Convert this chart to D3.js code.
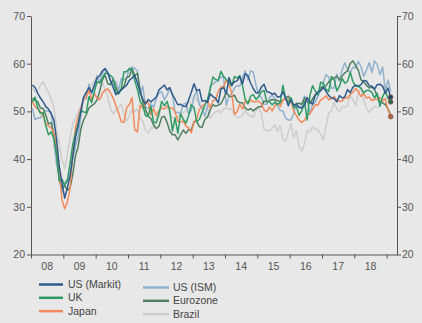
<!DOCTYPE html>
<html>
<head>
<meta charset="utf-8">
<script src="https://cdn.jsdelivr.net/npm/d3@7"></script>
<style>
  html, body { margin: 0; padding: 0; background: #e8e8e8; }
  svg { display: block; font-family: "Liberation Sans", Arial, sans-serif; }
</style>
</head>
<body>
<div id="chart"></div>
<script>
// Monthly PMI readings, Jan 2008 .. Feb 2019 (one row per year)
const startYear = 2008;
const yearLabels = ['08', '09', '10', '11', '12', '13', '14', '15', '16', '17', '18'];
const yTicks = [20, 30, 40, 50, 60, 70];

const usMarkit = [
    55.5, 55.0, 53.8, 52.8, 52.0, 51.0, 50.5, 49.5, 48.2, 44.0, 38.5, 35.0,
    31.8, 34.0, 36.5, 40.5, 44.5, 47.0, 50.0, 53.0, 54.0, 55.0, 54.0, 55.5,
    57.0, 57.5, 58.5, 59.0, 58.0, 56.5, 55.0, 53.5, 54.0, 54.5, 55.0, 55.5,
    56.5, 57.0, 57.5, 56.0, 54.0, 52.5, 51.5, 52.5, 52.0, 52.5, 53.0, 54.5,
    55.0, 55.5, 54.5, 55.0, 53.5, 52.5, 51.4, 51.5, 51.1, 51.0, 52.4, 54.0,
    55.8, 54.3, 54.6, 52.1, 52.3, 51.9, 53.7, 53.1, 52.8, 51.8, 54.7, 55.0,
    53.7, 57.1, 55.5, 56.2, 56.4, 57.3, 55.8, 57.9, 57.5, 55.9, 54.8, 53.9,
    53.9, 55.1, 55.7, 54.1, 54.0, 53.6, 53.8, 53.0, 53.1, 54.1, 52.8, 51.2,
    52.4, 51.3, 51.5, 50.8, 50.7, 51.3, 52.9, 52.0, 51.5, 53.4, 54.1, 54.3,
    55.0, 54.2, 53.3, 52.8, 52.7, 52.0, 53.3, 52.8, 53.1, 54.6, 53.9, 55.1,
    55.5, 55.3, 55.6, 56.5, 56.4, 55.4, 55.3, 54.7, 55.6, 55.7, 55.3, 53.8,
    54.9, 53.0
];
const usIsm = [
    50.7, 48.3, 48.6, 48.6, 49.6, 50.2, 50.0, 49.9, 43.5, 38.9, 36.2, 33.0,
    35.0, 35.8, 36.3, 40.1, 42.8, 44.8, 48.9, 52.9, 52.6, 55.7, 53.6, 54.9,
    57.5, 56.0, 58.0, 58.7, 58.3, 56.2, 55.5, 56.3, 54.4, 56.9, 56.6, 57.0,
    59.0, 59.3, 59.0, 58.5, 53.5, 55.3, 50.9, 50.6, 51.6, 50.8, 52.7, 53.9,
    54.1, 52.4, 53.4, 54.8, 53.5, 49.7, 49.8, 49.6, 51.5, 51.7, 49.5, 50.2,
    53.1, 54.2, 51.3, 50.7, 49.0, 50.9, 55.4, 55.7, 56.2, 56.4, 57.3, 57.0,
    51.3, 53.2, 53.7, 54.9, 55.4, 55.3, 57.1, 58.5, 56.6, 58.5, 58.2, 55.5,
    53.5, 52.9, 51.5, 51.5, 52.8, 53.5, 52.7, 51.1, 50.2, 50.1, 48.6, 48.2,
    48.2, 49.5, 51.8, 50.8, 51.3, 53.2, 52.6, 49.4, 51.5, 51.9, 53.2, 54.5,
    56.0, 57.7, 57.2, 54.8, 54.9, 57.8, 56.3, 58.8, 60.2, 58.7, 58.2, 59.3,
    59.1, 60.5, 59.3, 57.3, 58.7, 60.2, 58.1, 60.6, 59.8, 57.7, 59.3, 54.3,
    56.6, 54.2
];
const uk = [
    52.0, 53.0, 50.7, 49.6, 49.7, 47.0, 45.1, 45.7, 44.3, 41.0, 35.5, 35.8,
    34.5, 35.5, 39.1, 43.1, 45.4, 47.4, 50.2, 49.9, 49.7, 53.1, 51.8, 54.1,
    56.2, 56.0, 57.0, 58.0, 58.0, 57.5, 57.0, 54.0, 53.7, 54.7, 58.3, 58.3,
    59.0, 58.5, 56.5, 54.6, 52.1, 51.3, 49.1, 49.0, 51.1, 47.7, 47.6, 49.6,
    52.1, 51.2, 52.1, 50.2, 45.9, 48.6, 45.4, 49.5, 48.4, 47.5, 49.1, 51.4,
    50.8, 47.9, 48.3, 49.8, 51.3, 52.5, 54.6, 57.2, 56.7, 56.5, 58.4, 57.3,
    56.7, 56.2, 55.3, 57.3, 57.0, 57.5, 55.4, 52.5, 51.6, 53.2, 53.5, 52.5,
    53.1, 54.1, 54.4, 52.0, 52.0, 51.4, 51.9, 51.5, 51.8, 55.5, 52.7, 51.9,
    52.9, 50.8, 51.0, 49.2, 50.1, 52.1, 48.2, 53.3, 55.4, 54.3, 53.4, 56.1,
    55.9, 54.6, 54.2, 57.3, 56.7, 54.3, 55.3, 56.9, 55.9, 56.3, 58.2, 56.2,
    55.3, 55.2, 54.9, 53.9, 54.4, 54.4, 54.0, 52.8, 53.8, 51.1, 53.1, 54.2,
    52.8, 52.0
];
const eurozone = [
    52.8, 52.3, 52.0, 50.7, 50.6, 49.2, 47.4, 47.6, 45.0, 41.1, 35.6, 33.9,
    34.4, 33.5, 33.9, 36.8, 40.7, 42.6, 46.3, 48.2, 49.3, 50.7, 51.2, 51.6,
    52.4, 54.2, 56.6, 57.6, 55.8, 55.6, 56.7, 55.1, 53.7, 54.6, 55.3, 57.1,
    57.3, 59.0, 57.5, 58.0, 54.6, 52.0, 50.4, 49.0, 48.5, 47.1, 46.4, 46.9,
    48.8, 49.0, 47.7, 45.9, 45.1, 45.1, 44.0, 45.1, 46.1, 45.4, 46.2, 46.1,
    47.9, 47.9, 46.8, 46.7, 48.3, 48.8, 50.3, 51.4, 51.1, 51.3, 51.6, 52.7,
    54.0, 53.2, 53.0, 53.4, 52.2, 51.8, 51.8, 50.7, 50.3, 50.6, 50.1, 50.6,
    51.0, 51.0, 52.2, 52.0, 52.2, 52.5, 52.4, 52.3, 52.0, 52.3, 52.8, 53.2,
    52.3, 51.2, 51.6, 51.7, 51.5, 52.8, 52.0, 51.7, 52.6, 53.5, 53.7, 54.9,
    55.2, 55.4, 56.2, 56.7, 57.0, 57.4, 56.6, 57.4, 58.1, 58.5, 60.1, 60.6,
    59.6, 58.6, 56.6, 56.2, 55.5, 54.9, 55.1, 54.6, 53.2, 52.0, 51.8, 51.4,
    50.5, 49.3
];
const japan = [
    52.0, 51.0, 50.5, 50.0, 49.0, 47.5, 47.0, 46.5, 45.5, 42.0, 37.5, 31.5,
    29.6, 31.0, 33.8, 41.4, 46.6, 48.8, 50.6, 52.5, 53.0, 54.5, 52.5, 53.8,
    52.8, 52.5, 53.8, 54.5, 54.7, 53.9, 52.8, 51.2, 49.7, 47.8, 47.7, 50.8,
    51.4, 52.9, 46.1, 45.7, 51.3, 50.7, 52.1, 51.9, 49.3, 50.6, 49.1, 50.2,
    50.7, 50.5, 51.1, 50.7, 50.7, 49.9, 47.9, 47.7, 48.0, 46.9, 46.5, 45.5,
    47.7, 48.5, 50.4, 51.1, 51.5, 52.3, 50.7, 52.2, 52.5, 54.2, 55.1, 55.2,
    56.6, 55.5, 53.9, 49.4, 49.9, 51.5, 50.5, 52.2, 51.7, 52.4, 52.0, 52.0,
    52.2, 51.6, 50.3, 49.9, 50.9, 50.1, 51.2, 51.7, 51.0, 52.4, 52.6, 52.6,
    52.3, 50.1, 49.1, 48.2, 47.7, 48.1, 49.3, 49.5, 50.4, 51.4, 51.3, 52.4,
    52.7, 53.3, 52.4, 52.7, 53.1, 52.4, 52.1, 52.2, 52.9, 52.8, 53.6, 54.0,
    54.8, 54.1, 53.1, 53.8, 52.8, 53.0, 52.3, 52.5, 52.5, 52.9, 52.2, 52.6,
    50.3, 48.9
];
const brazil = [
    55.0, 54.0, 54.5, 55.5, 56.2, 55.0, 54.0, 52.5, 51.0, 46.0, 43.0, 40.0,
    38.0, 41.0, 44.5, 47.5, 48.5, 50.0, 51.0, 52.5, 53.5, 54.5, 55.5, 56.5,
    57.0, 56.5, 56.0, 54.5, 53.0, 50.5, 49.5, 50.2, 50.9, 51.5, 49.5, 48.0,
    49.0, 50.5, 50.0, 50.5, 48.5, 48.0, 46.0, 45.5, 46.5, 46.5, 48.5, 48.8,
    51.2, 51.4, 51.1, 49.3, 48.7, 48.5, 48.7, 49.3, 49.8, 50.2, 52.2, 51.1,
    53.2, 52.5, 51.8, 50.8, 50.4, 51.0, 48.5, 49.4, 49.9, 50.2, 49.7, 50.5,
    50.8, 50.4, 50.6, 49.3, 48.8, 48.7, 49.1, 50.2, 49.3, 49.1, 48.7, 50.2,
    50.7, 49.6, 46.2, 46.0, 45.9, 46.5, 47.2, 45.8, 47.0, 44.1, 43.8, 45.6,
    47.4, 44.5, 46.0, 42.6, 41.6, 43.2, 46.0, 45.7, 46.7, 46.3, 46.2, 45.2,
    44.0, 46.9, 49.6, 50.1, 52.0, 50.5, 50.0, 50.9, 50.9, 51.2, 53.5, 52.4,
    51.2, 54.0, 54.8, 52.3, 50.7, 49.8, 50.5, 51.1, 50.9, 51.1, 52.7, 52.6,
    52.7, 53.4
];

// drawing order: back to front
const series = [
    { name: 'Brazil', values: brazil, color: '#cdcdcd', col: 1, row: 2 },
    { name: 'US (ISM)', values: usIsm, color: '#91b1cd', col: 1, row: 0 },
    { name: 'Eurozone', values: eurozone, color: '#4e7f5f', col: 1, row: 1 },
    { name: 'Japan', values: japan, color: '#f28a5a', col: 0, row: 2, dot: true },
    { name: 'UK', values: uk, color: '#2f9b63', col: 0, row: 1, dot: true },
    { name: 'US (Markit)', values: usMarkit, color: '#2e5b8b', col: 0, row: 0, dot: true }
];

const W = 422, H = 323;
const plot = { left: 31, right: 397, top: 16, bottom: 254.5 };

const svg = d3.select('#chart').append('svg')
    .attr('width', W).attr('height', H);

svg.append('rect').attr('width', W).attr('height', H).attr('fill', '#e8e8e8');

const x = d3.scaleLinear().domain([2008, 2019.32]).range([plot.left, plot.right]);
const y = d3.scaleLinear().domain([20, 70]).range([plot.bottom, plot.top]);

const monthX = i => x(startYear + (i + 0.5) / 12);

// axes
const axisColor = '#555';
const yLeft = svg.append('g')
    .attr('transform', `translate(${plot.left},0)`)
    .call(d3.axisLeft(y).tickValues(yTicks).tickSize(4).tickSizeOuter(0));
const yRight = svg.append('g')
    .attr('transform', `translate(${plot.right},0)`)
    .call(d3.axisRight(y).tickValues(yTicks).tickSize(4).tickSizeOuter(0));
const xAxis = svg.append('g')
    .attr('transform', `translate(0,${plot.bottom})`)
    .call(d3.axisBottom(x).tickValues(d3.range(2008, 2020)).tickSize(4).tickSizeOuter(0).tickFormat(''));

[yLeft, yRight, xAxis].forEach(g => {
    g.select('.domain').attr('stroke', axisColor).attr('stroke-width', 1);
    g.selectAll('.tick line').attr('stroke', axisColor);
    g.selectAll('text').attr('fill', '#555').attr('font-size', '10.5px')
        .attr('font-family', '"Liberation Sans", Arial, sans-serif');
});
yLeft.selectAll('text').attr('x', -6);
yRight.selectAll('text').attr('x', 5);

svg.append('g').selectAll('text')
    .data(yearLabels)
    .join('text')
    .attr('x', (d, i) => x(startYear + i + 0.5))
    .attr('y', plot.bottom + 15)
    .attr('text-anchor', 'middle')
    .attr('fill', '#555')
    .attr('font-size', '10.5px')
    .text(d => d);

// lines
const line = d3.line()
    .x((d, i) => monthX(i))
    .y(d => y(d));

svg.append('g').selectAll('path')
    .data(series)
    .join('path')
    .attr('d', d => line(d.values))
    .attr('fill', 'none')
    .attr('stroke', d => d.color)
    .attr('stroke-width', 1.5)
    .attr('stroke-linejoin', 'round');

// latest-value markers
svg.append('g').selectAll('circle')
    .data(series.filter(d => d.dot))
    .join('circle')
    .attr('cx', d => monthX(d.values.length - 1))
    .attr('cy', d => y(d.values[d.values.length - 1]))
    .attr('r', 2.3)
    .attr('fill', d => d3.color(d.color).darker(0.9))
    .attr('stroke', '#8a5048')
    .attr('stroke-width', 0.8);

// legend
const legend = svg.append('g');
const cols = [{ x1: 39, x2: 63, tx: 68, y0: 284.5 }, { x1: 143, x2: 169, tx: 173, y0: 287.5 }];
const rowGap = 13.3;
series.forEach(s => {
    const c = cols[s.col];
    const ly = c.y0 + s.row * rowGap;
    legend.append('line')
        .attr('x1', c.x1).attr('x2', c.x2)
        .attr('y1', ly).attr('y2', ly)
        .attr('stroke', s.color).attr('stroke-width', 2.5);
    legend.append('text')
        .attr('x', c.tx).attr('y', ly)
        .attr('dy', '0.35em')
        .attr('fill', '#444')
        .attr('font-size', '10.5px')
        .text(s.name);
});
</script>
</body>
</html>
